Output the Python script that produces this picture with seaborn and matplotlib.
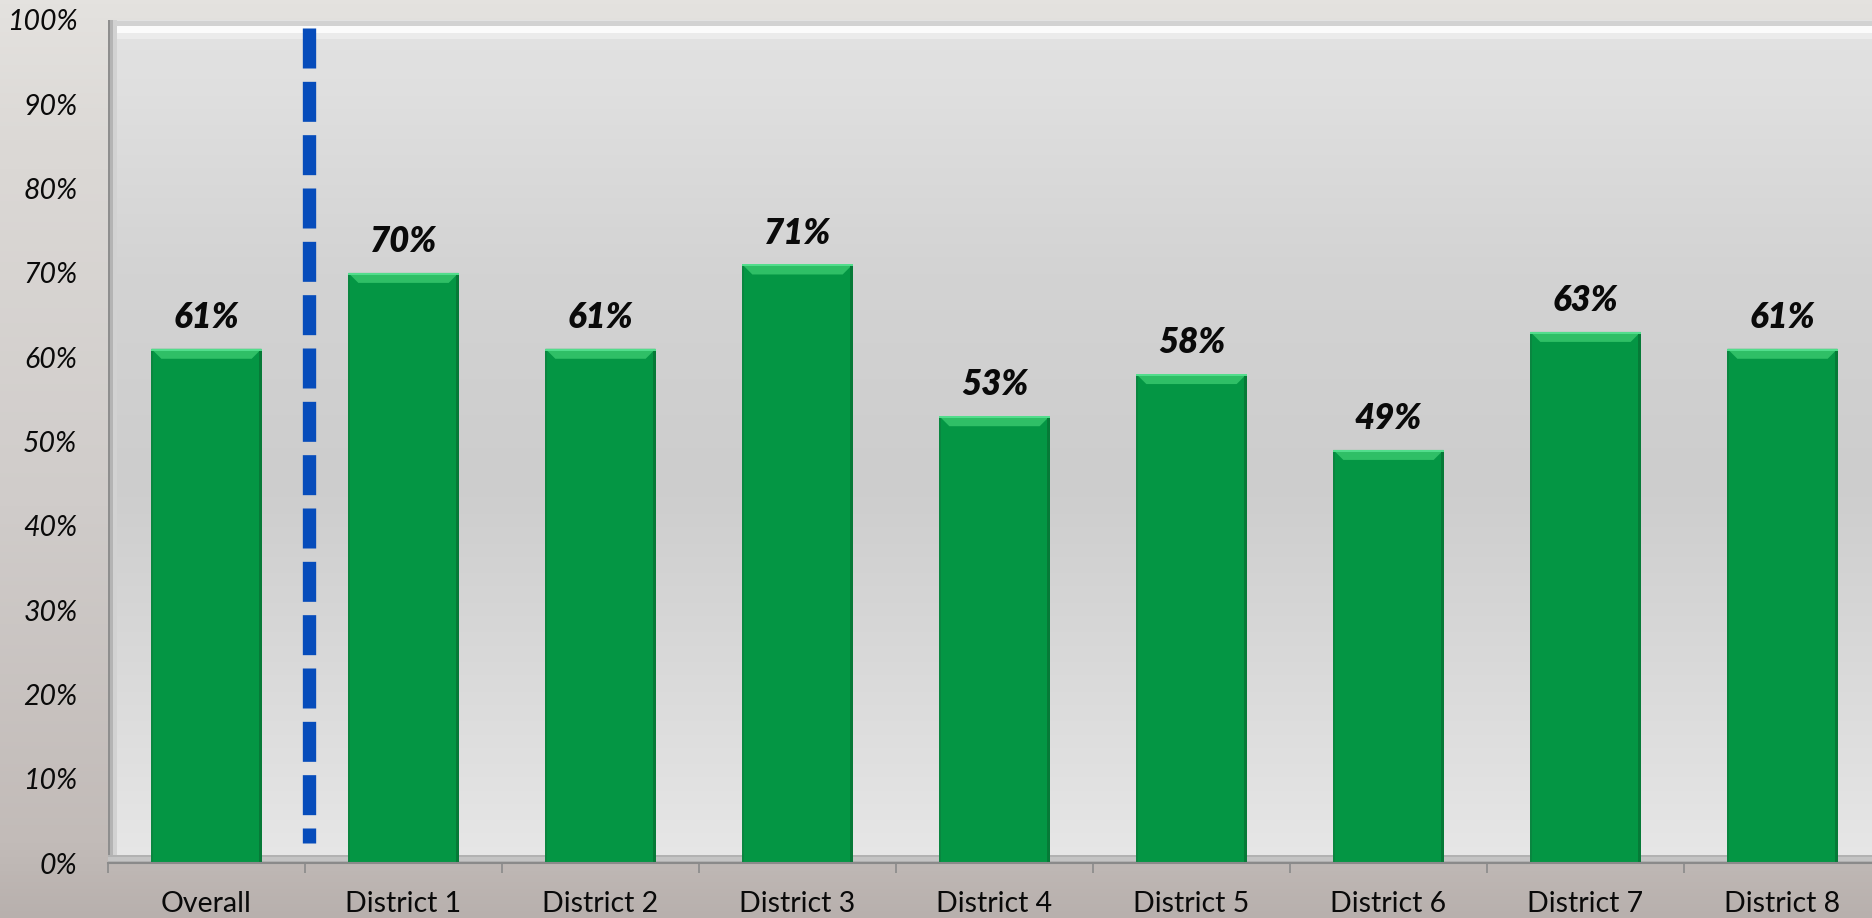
import numpy as np
import pandas as pd
import matplotlib
matplotlib.use("Agg")
import matplotlib.pyplot as plt
import seaborn as sns
from matplotlib.patches import Polygon, Rectangle
from matplotlib.colors import LinearSegmentedColormap
from matplotlib.ticker import FixedLocator

# ---- data -------------------------------------------------------------
categories = ["Overall", "District 1", "District 2", "District 3", "District 4",
              "District 5", "District 6", "District 7", "District 8"]
shares = [61, 70, 61, 71, 53, 58, 49, 63, 61]
y_ticks = [0, 10, 20, 30, 40, 50, 60, 70, 80, 90, 100]
y_tick_labels = [f"{t}%" for t in y_ticks]
divider_x = 0.52            # separates the overall figure from the districts
divider_span = (99.0, 2.4)  # top and bottom of the divider, in percent

df = pd.DataFrame({"area": categories, "share": shares})

# ---- style ------------------------------------------------------------
sns.set_theme(style="white")
plt.rcParams["font.family"] = ["Lato", "DejaVu Sans"]

W, H, DPI = 1872, 918, 100
fig = plt.figure(figsize=(W / DPI, H / DPI), dpi=DPI)

# page background (soft vertical gradient)
bg = fig.add_axes([0, 0, 1, 1], zorder=-10)
page_cmap = LinearSegmentedColormap.from_list(
    "page", [(0.0, "#b8b0ad"), (0.08, "#c2bbb8"), (0.45, "#d0ccca"),
             (0.85, "#dcd9d6"), (1.0, "#e4e2df")])
bg.imshow(np.linspace(0, 1, 256).reshape(-1, 1), cmap=page_cmap, origin="lower",
          aspect="auto", extent=[0, 1, 0, 1])
bg.set_axis_off()

# plot area in pixel geometry
left_px, right_px = 108, 1881
top_px, bottom_px = 20, 863
ax = fig.add_axes([left_px / W, (H - bottom_px) / H,
                   (right_px - left_px) / W, (bottom_px - top_px) / H])
ax.patch.set_alpha(0)

px_x = 9.0 / (right_px - left_px)      # data units per pixel, x
px_y = 100.0 / (bottom_px - top_px)    # data units per pixel, y

# ---- bars -------------------------------------------------------------
bar_green = "#049644"
sns.barplot(data=df, x="area", y="share", color=bar_green, saturation=1,
            width=0.56, linewidth=0, ax=ax, zorder=3)
bars = list(ax.patches)

bevel_h = 10 * px_y
bevel_w = 10 * px_x
for patch in bars:
    x0 = patch.get_x()
    x1 = x0 + patch.get_width()
    top = patch.get_height()
    # lighter top bevel
    ax.add_patch(Polygon([(x0, top), (x1, top), (x1 - bevel_w, top - bevel_h),
                          (x0 + bevel_w, top - bevel_h)],
                         closed=True, facecolor="#2fbf66", lw=0, zorder=4))
    ax.add_patch(Rectangle((x0, top - 2 * px_y), x1 - x0, 2 * px_y,
                           facecolor="#52dd8c", lw=0, zorder=5))
    # darker side edges
    ax.add_patch(Rectangle((x1 - 3 * px_x, 0), 3 * px_x, top - 2 * px_y,
                           facecolor="#067a37", lw=0, zorder=5))
    ax.add_patch(Rectangle((x0, 0), 2 * px_x, top - 2 * px_y,
                           facecolor="#0a8640", lw=0, zorder=5))
    ax.add_patch(Rectangle((x0, 0), x1 - x0, 1.5 * px_y,
                           facecolor="#0b6f35", lw=0, zorder=5))

# chart wall gradient
wall_cmap = LinearSegmentedColormap.from_list(
    "wall", [(0.0, "#e7e7e7"), (0.15, "#dedede"), (0.45, "#cdcdcd"),
             (0.7, "#d3d3d3"), (0.93, "#e0e0e0"), (1.0, "#e2e2e2")])
ax.imshow(np.linspace(0, 1, 256).reshape(-1, 1), cmap=wall_cmap, origin="lower",
          aspect="auto", extent=[-0.5, 8.5, 0, 100], zorder=0)

# bevelled frame: top highlight, left wall shadow, floor
ax.axhspan(99.3, 99.9, color="#d2d2d2", zorder=1, lw=0)
ax.axhspan(98.4, 99.3, color="#fbfbfb", zorder=1, lw=0)
ax.axhspan(97.8, 98.4, color="#ebebeb", zorder=1, lw=0)
ax.axvspan(-0.5, -0.5 + 2 * px_x, color="#8e8e8e", zorder=1, lw=0)
ax.axvspan(-0.5 + 2 * px_x, -0.5 + 5 * px_x, color="#b4b4b4", zorder=1, lw=0)
ax.axvspan(-0.5 + 5 * px_x, -0.5 + 9 * px_x, color="#d2d2d2", zorder=1, lw=0)
ax.axhspan(0, 8 * px_y, color="#b2b2b2", zorder=1, lw=0)
ax.axhspan(2 * px_y, 6 * px_y, color="#c4c4c4", zorder=1, lw=0)

# value labels
for i, v in enumerate(shares):
    ax.annotate(f"{v}%", (i, v), xytext=(0, 15), textcoords="offset points",
                ha="center", va="baseline", fontsize=25, fontweight="heavy",
                fontstyle="italic", color="#0a0a0a", zorder=6)

# dashed divider between "Overall" and the districts
ax.plot([divider_x, divider_x], list(divider_span), color="#064cbb", lw=9.6,
        dashes=(3.0, 1.0), dash_capstyle="butt", solid_capstyle="butt",
        zorder=6)

# ---- axes -------------------------------------------------------------
ax.set_xlim(-0.5, 8.5)
ax.set_ylim(0, 100)
ax.set_xlabel("")
ax.set_ylabel("")

ax.set_yticks(y_ticks)
ax.set_yticklabels(y_tick_labels, fontsize=20.5, fontstyle="italic", color="#0a0a0a")
ax.tick_params(axis="y", length=0, pad=22)

ax.set_xticks(range(len(categories)))
ax.set_xticklabels(categories, fontsize=20.5, color="#0a0a0a")
ax.xaxis.set_minor_locator(FixedLocator(np.arange(-0.5, 8.6, 1.0)))
ax.tick_params(axis="x", which="major", length=0, pad=20)
ax.tick_params(axis="x", which="minor", length=7, width=1.2, color="#8a8a8a",
               bottom=True)

for side in ("top", "right", "left"):
    ax.spines[side].set_visible(False)
ax.spines["bottom"].set_color("#8a8a8a")
ax.spines["bottom"].set_linewidth(1.5)
ax.spines["bottom"].set_zorder(7)

fig.savefig("out.png", dpi=DPI)
